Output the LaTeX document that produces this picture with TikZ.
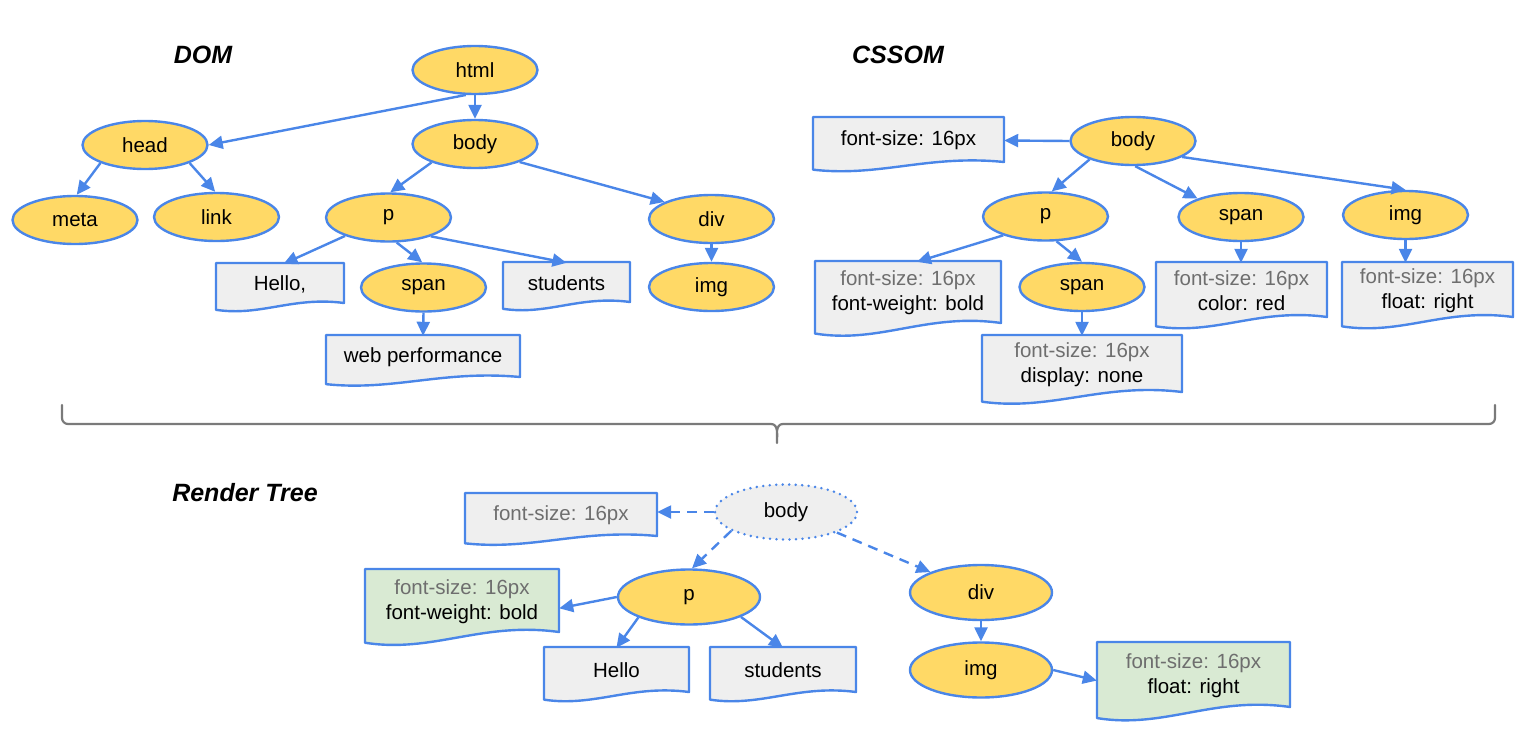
\documentclass[tikz,border=0pt]{standalone}
\usepackage{fontspec}
\setmainfont{Liberation Sans}
\usetikzlibrary{arrows.meta,shapes.geometric,calc}
\definecolor{nodeblue}{HTML}{4A86E8}
\definecolor{nodeyellow}{HTML}{FFD966}
\definecolor{boxgray}{HTML}{EFEFEF}
\definecolor{boxgreen}{HTML}{D9EAD3}
\definecolor{txtgray}{HTML}{6E6E6E}
\definecolor{bracegray}{HTML}{7A7A7A}
\newcommand{\nodefont}{\fontsize{20.5}{25}\selectfont}
\newcommand{\gr}[1]{\textcolor{txtgray}{#1}}
\newcommand{\docbox}[7]{%
  \pgfmathsetmacro{\dbw}{#5-#3}%
  \pgfmathsetmacro{\dbh}{#6-#4}%
  \pgfmathsetmacro{\dbyl}{#6+0.17*\dbh}%
  \draw[docshape,#1] (#3,#4) -- (#5,#4) -- (#5,#6)
     .. controls ({#3+0.6*\dbw},{#6-0.17*\dbh}) and ({#3+0.35*\dbw},{\dbyl+0.17*\dbh}) .. (#3,\dbyl) -- cycle;
  \node[doctext,minimum width=\dbw pt,minimum height=\dbh pt] (#2) at ({(#3+#5)/2},{(#4+#6)/2+1}) {#7};
}
\tikzset{
  elnode/.style={ellipse, draw=nodeblue, fill=nodeyellow, line width=2.4pt,
    minimum width=125pt, minimum height=48pt, inner sep=0pt, font=\nodefont},
  relnode/.style={elnode, minimum width=142pt, minimum height=55pt},
  dotnode/.style={relnode, fill=boxgray, dash pattern=on 0pt off 6.5pt, line cap=round, line width=2.8pt},
  docshape/.style={draw=nodeblue, fill=boxgray, line width=2.4pt, line join=round},
  greendoc/.style={fill=boxgreen},
  doctext/.style={draw=none, fill=none, inner sep=0pt, align=center, font=\nodefont},
  conn/.style={draw=nodeblue, line width=2.4pt, -{Triangle[length=14pt,width=13pt]}},
  dconn/.style={conn, dash pattern=on 10pt off 7pt},
  title/.style={font=\fontsize{25}{30}\selectfont\bfseries\itshape},
}
\begin{document}
\begin{tikzpicture}[x=1pt,y=-1pt]
\useasboundingbox (0,0) rectangle (1540,750);

% ---------------- DOM ----------------
\node[title] (domtitle) at (203,55) {DOM};
\node[elnode] (html) at (475,70) {html};
\node[elnode] (head) at (145,145) {head};
\node[elnode] (body) at (475,144) {body};
\node[elnode] (meta) at (75,220) {meta};
\node[elnode] (link) at (216.5,217) {link};
\node[elnode] (p) at (388.5,217.5) {p};
\node[elnode] (div) at (711.5,219) {div};
\node[elnode] (span) at (423.5,287.5) {span};
\node[elnode] (img) at (711.5,287) {img};
\docbox{}{hello}{216}{263}{344}{303}{Hello,}
\docbox{}{students}{503}{262}{630}{302}{students}
\docbox{}{web}{326}{335}{520}{377}{web performance}

\draw[conn] (html.250) -- (head.east);
\draw[conn] (html.south) -- (body.north);
\draw[conn] (head.202) -- (meta.86);
\draw[conn] (head.-22) -- (link.93);
\draw[conn] (body.203) -- (p.86);
\draw[conn] (body.-22) -- (div.160);
\draw[conn] (p.203) -- (hello.80);
\draw[conn] (p.-72) -- (span.93);
\draw[conn] (p.-24) -- (students.north);
\draw[conn] (span.south) -- (web.north);
\draw[conn] (div.south) -- (img.north);

% ---------------- CSSOM ----------------
\node[title] (csstitle) at (898,55) {CSSOM};
\node[elnode] (cbody) at (1133,141) {body};
\node[elnode] (cp) at (1045.5,216.5) {p};
\node[elnode] (cspan) at (1241,217) {span};
\node[elnode] (cimg) at (1405.5,215) {img};
\node[elnode] (cspantwo) at (1082,287) {span};
\docbox{}{cfs}{813}{117}{1004}{162}{font-size: 16px}
\docbox{}{cpbox}{815}{261}{1001}{323}{\gr{font-size: 16px}\\font-weight: bold}
\docbox{}{csbox}{1156}{262}{1327}{317}{\gr{font-size: 16px}\\color: red}
\docbox{}{cibox}{1342}{262}{1513}{317}{\gr{font-size: 16px}\\float: right}
\docbox{}{cdisp}{982}{335}{1182}{392}{\gr{font-size: 16px}\\display: none}

\draw[conn] (cbody.west) -- (cfs.east);
\draw[conn] (cbody.203) -- (cp.76);
\draw[conn] (cbody.-85) -- (cspan.157);
\draw[conn] (cbody.-18) -- (cimg.north);
\draw[conn] (cp.204) -- (cpbox.74);
\draw[conn] (cp.-66) -- (cspantwo.north);
\draw[conn] (cspantwo.south) -- (cdisp.north);
\draw[conn] (cspan.south) -- (cspan.south |- csbox.north);
\draw[conn] (cimg.south) -- (cimg.south |- cibox.north);

% ---------------- brace ----------------
\draw[bracegray, line width=2.2pt, line cap=round, line join=round]
  (62,405) -- (62,418) to[out=-90,in=180] (68,424) -- (771,424)
  to[out=0,in=90] (777,443) to[out=90,in=180] (783,424) -- (1489,424)
  to[out=0,in=-90] (1495,418) -- (1495,405);

% ---------------- Render tree ----------------
\node[title] (rtitle) at (245,493) {Render Tree};
\node[dotnode] (rbody) at (786,512) {body};
\node[relnode] (rp) at (689,597) {p};
\node[relnode] (rdiv) at (981,592.5) {div};
\node[relnode] (rimg) at (981,670) {img};
\docbox{}{rfs}{465}{493}{657}{536}{\gr{font-size: 16px}}
\docbox{greendoc}{rpbox}{365}{569}{559}{632}{\gr{font-size: 16px}\\font-weight: bold}
\docbox{}{rhello}{544}{647}{689}{692}{Hello}
\docbox{}{rstudents}{710}{647}{856}{692}{students}
\docbox{greendoc}{rfloat}{1097}{642}{1290}{707}{\gr{font-size: 16px}\\float: right}

\draw[dconn] (rbody.west) -- (rbody.west -| rfs.east);
\draw[dconn] (rbody.199) -- (rp.84);
\draw[dconn] (rbody.-22) -- (rdiv.158);
\draw[conn] (rp.west) -- (rpbox.-4);
\draw[conn] (rp.202) -- (rhello.north);
\draw[conn] (rp.-21) -- (rstudents.north);
\draw[conn] (rdiv.south) -- (rimg.north);
\draw[conn] (rimg.east) -- (rfloat.183);
\end{tikzpicture}
\end{document}
